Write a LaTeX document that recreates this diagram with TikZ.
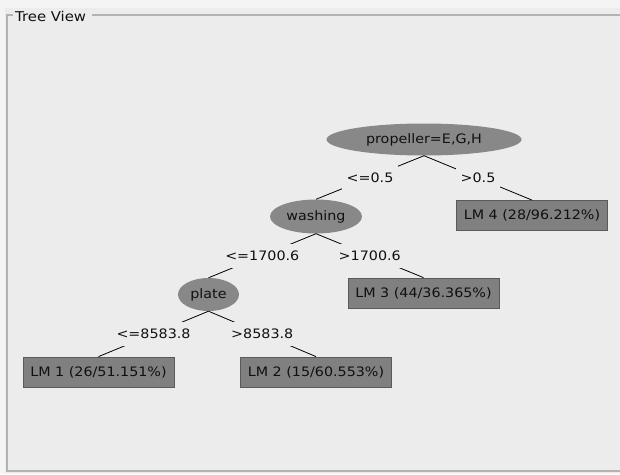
\documentclass[tikz,border=0pt]{standalone}
\usepackage{fontspec}
\setmainfont{DejaVu Sans}[FakeStretch=1.1]
\usetikzlibrary{shapes.geometric}
\definecolor{outerbg}{HTML}{F4F4F4}
\definecolor{panelbg}{HTML}{ECECEC}
\definecolor{framec}{HTML}{B2B2B2}
\definecolor{nodefill}{HTML}{888888}
\definecolor{boxfill}{HTML}{808080}
\definecolor{boxline}{HTML}{5A5A5A}
\definecolor{txt}{HTML}{101010}
\begin{document}
\begin{tikzpicture}[x=1pt,y=-1pt,
  every node/.style={font=\fontsize{13}{15}\selectfont, text=txt},
  split/.style={ellipse, fill=nodefill, draw=none, inner sep=0pt},
  leaf/.style={rectangle, fill=boxfill, draw=boxline, line width=0.8pt,
    minimum width=151pt, minimum height=30pt, inner sep=0pt},
  lbl/.style={fill=panelbg, inner xsep=5pt, minimum height=24pt},
  conn/.style={draw=black, line width=0.8pt}]
\useasboundingbox (0,0) rectangle (620,474);
\fill[outerbg] (0,0) rectangle (620,474);
\fill[panelbg] (5,8) rectangle (620,473);
% frame
\draw[framec, line width=1.4pt] (13,15) -- (7,15) -- (7,471) -- (620,471);
\draw[framec, line width=1.4pt] (92,15) -- (620,15);
\node[anchor=base west, inner sep=0pt, font=\fontsize{13.5}{15}\selectfont] (title) at (15,21) {Tree View};
% split nodes
\node[split, minimum width=195pt, minimum height=32pt] (prop) at (424,139.5) {propeller=E,G,H};
\node[split, minimum width=92pt, minimum height=34pt] (wash) at (316,216.5) {washing};
\node[split, minimum width=61pt, minimum height=33pt] (plate) at (208.5,294.5) {plate};
% leaves
\node[leaf] (lm4) at (532,215.5) {LM 4 (28/96.212\%)};
\node[leaf] (lm3) at (423.5,293) {LM 3 (44/36.365\%)};
\node[leaf] (lm1) at (98.5,372) {LM 1 (26/51.151\%)};
\node[leaf] (lm2) at (316,372) {LM 2 (15/60.553\%)};
% connectors
\draw[conn] (prop.south) -- node[lbl] (l1) {<=0.5} (wash.north);
\draw[conn] (prop.south) -- node[lbl] (l2) {>0.5} (lm4.north);
\draw[conn] (wash.south) -- node[lbl] (l3) {<=1700.6} (plate.north);
\draw[conn] (wash.south) -- node[lbl] (l4) {>1700.6} (lm3.north);
\draw[conn] (plate.south) -- node[lbl] (l5) {<=8583.8} (lm1.north);
\draw[conn] (plate.south) -- node[lbl] (l6) {>8583.8} (lm2.north);
\end{tikzpicture}
\end{document}
